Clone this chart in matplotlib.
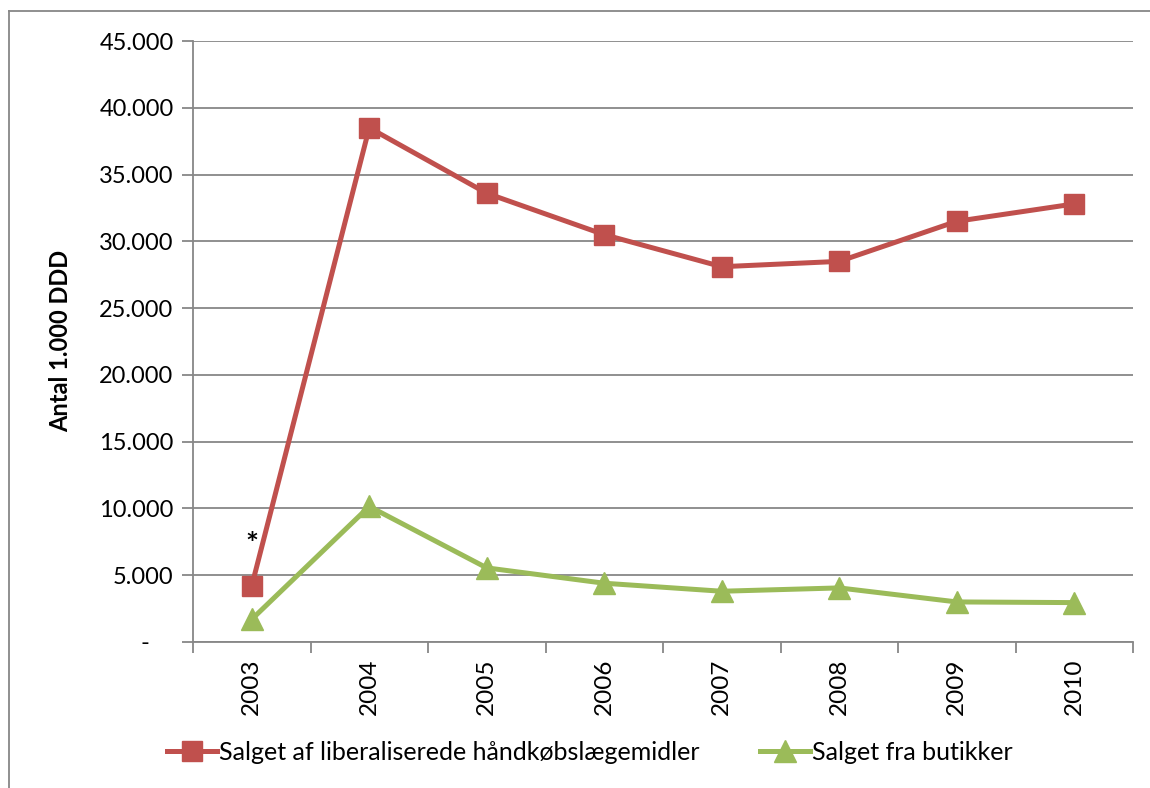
import matplotlib
matplotlib.use("Agg")
import matplotlib.pyplot as plt
from matplotlib.lines import Line2D
from matplotlib.ticker import FixedLocator, FuncFormatter

plt.rcParams['font.family'] = ['Lato', 'DejaVu Sans']

years = ["2003", "2004", "2005", "2006", "2007", "2008", "2009", "2010"]
liberal = [4200, 38500, 33600, 30500, 28100, 28500, 31500, 32800]
butik = [1700, 10150, 5550, 4400, 3800, 4050, 3000, 2950]

red = "#C0504D"
green = "#9BBB59"
grid_col = "#878787"

W, H = 1150, 788
fig = plt.figure(figsize=(W / 100, H / 100), dpi=100)
ax = fig.add_axes([193 / W, 1 - 642 / H, (1133 - 193) / W, (642 - 41) / H])

x = list(range(len(years)))
l1, = ax.plot(x, liberal, color=red, lw=3.6, marker="s", markersize=14,
              label="Salget af liberaliserede håndkøbslægemidler", zorder=3)
l2, = ax.plot(x, butik, color=green, lw=3.6, marker="^", markersize=16,
              label="Salget fra butikker", zorder=3)

ax.set_xlim(-0.5, len(years) - 0.5)
ax.set_ylim(0, 45000)
ax.set_yticks(range(0, 45001, 5000))


def fmt(v, pos):
    if v == 0:
        return "-    "
    return f"{int(v):,}".replace(",", ".")


ax.yaxis.set_major_formatter(FuncFormatter(fmt))
ax.grid(axis="y", color=grid_col, lw=1.3)
ax.set_axisbelow(True)

# category boundaries as ticks, labels at centers
ax.xaxis.set_major_locator(FixedLocator([i - 0.5 for i in range(len(years) + 1)]))
ax.xaxis.set_major_formatter(FuncFormatter(lambda v, p: ""))
ax.xaxis.set_minor_locator(FixedLocator(x))
ax.set_xticklabels(years, minor=True, rotation=90)
ax.tick_params(axis="x", which="minor", length=0, pad=12, labelsize=17.5)
ax.tick_params(axis="x", which="major", length=8, color=grid_col, width=1.3)
ax.tick_params(axis="y", length=8, color=grid_col, width=1.3, labelsize=17, pad=6)

for s in ["top", "right"]:
    ax.spines[s].set_visible(False)
for s in ["left", "bottom"]:
    ax.spines[s].set_color(grid_col)
    ax.spines[s].set_linewidth(1.3)

ax.set_ylabel("Antal 1.000 DDD", fontsize=17, fontweight="bold")
ax.yaxis.set_label_coords(72 / W, 1 - 341 / H, transform=fig.transFigure)

ax.text(0, 6200, "*", ha="center", va="bottom", fontsize=22, fontweight="bold")

fig.legend(handles=[l1, l2], loc="center", bbox_to_anchor=(590 / W, 1 - 752 / H),
           ncol=2, frameon=False, fontsize=18, handlelength=2.0, handletextpad=0.1,
           columnspacing=2.4)

# outer chart frame (top and left edges visible)
fig.add_artist(Line2D([9 / W, 1.0], [1 - 11 / H, 1 - 11 / H], color=grid_col, lw=1.3))
fig.add_artist(Line2D([9 / W, 9 / W], [0, 1 - 11 / H], color=grid_col, lw=1.3))

fig.savefig("out.png", dpi=100)
